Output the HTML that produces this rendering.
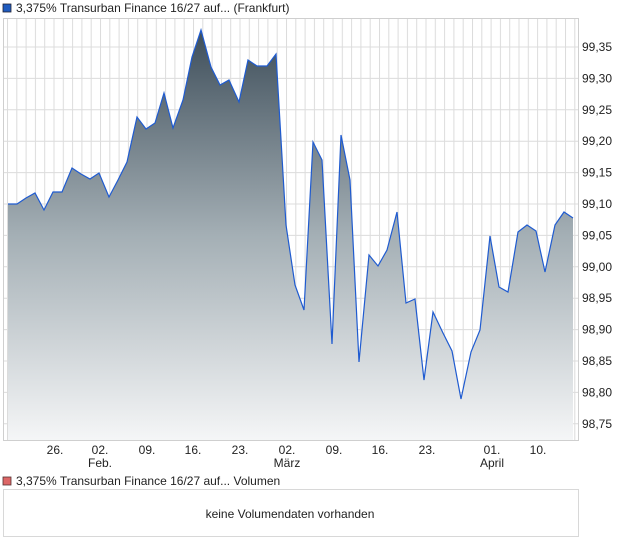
<!DOCTYPE html>
<html><head><meta charset="utf-8"><style>
body{margin:0;background:#fff;font-family:"Liberation Sans",sans-serif;}
svg{display:block}
text{font-family:"Liberation Sans",sans-serif;font-size:12px;fill:#222}
</style></head><body>
<svg width="620" height="546" viewBox="0 0 620 546">
<defs>
<linearGradient id="g" x1="0" y1="30" x2="0" y2="441" gradientUnits="userSpaceOnUse">
<stop offset="0" stop-color="#3e4e5a"/><stop offset="0.5" stop-color="#a4afb5"/><stop offset="1" stop-color="#f5f6f7"/>
</linearGradient>
<pattern id="vp" x="7" y="0" width="9.3" height="10" patternUnits="userSpaceOnUse">
<rect x="0" y="0" width="1" height="10" fill="#dcdcdc"/>
</pattern>
</defs>
<rect x="3" y="4" width="8" height="8" fill="#1f5bbf" stroke="#223" stroke-width="0.8"/>
<text x="16" y="12">3,375% Transurban Finance 16/27 auf... (Frankfurt)</text>
<rect x="4" y="19" width="574" height="421" fill="url(#vp)"/>
<g stroke="#dcdcdc" stroke-width="1">
<line x1="3" y1="47" x2="579" y2="47"/><line x1="3" y1="78.4" x2="579" y2="78.4"/><line x1="3" y1="109.8" x2="579" y2="109.8"/><line x1="3" y1="141.2" x2="579" y2="141.2"/><line x1="3" y1="172.6" x2="579" y2="172.6"/><line x1="3" y1="204" x2="579" y2="204"/><line x1="3" y1="235.4" x2="579" y2="235.4"/><line x1="3" y1="266.8" x2="579" y2="266.8"/><line x1="3" y1="298.2" x2="579" y2="298.2"/><line x1="3" y1="329.6" x2="579" y2="329.6"/><line x1="3" y1="361" x2="579" y2="361"/><line x1="3" y1="392.4" x2="579" y2="392.4"/><line x1="3" y1="423.8" x2="579" y2="423.8"/>
</g>
<polygon fill="url(#g)" points="8,441 8,204 17,204 26,198 35,193 44,210 53,192 62,192 72,168 81,174 90,179 99,173 109,197 118,180 127,162 137,117 146,129 155,123 164,93 173,128 183,100 192,57 201,30 211,67 220,85 229,80 239,102 248,60 257,66 267,66 276,54 286,225 295,285 304,310 313,142 322,160 332,344 341,135 350,180 359,362 369,255 378,266 387,250 397,212 406,303 415,299 424,380 433,312 443,333 452,351 461,399 471,352 480,330 490,236 499,287 508,292 518,232 527,225 536,231 545,272 555,225 564,212 573,218 573,441"/>
<polyline fill="none" stroke="#1f5bd0" stroke-width="1.2" points="8,204 17,204 26,198 35,193 44,210 53,192 62,192 72,168 81,174 90,179 99,173 109,197 118,180 127,162 137,117 146,129 155,123 164,93 173,128 183,100 192,57 201,30 211,67 220,85 229,80 239,102 248,60 257,66 267,66 276,54 286,225 295,285 304,310 313,142 322,160 332,344 341,135 350,180 359,362 369,255 378,266 387,250 397,212 406,303 415,299 424,380 433,312 443,333 452,351 461,399 471,352 480,330 490,236 499,287 508,292 518,232 527,225 536,231 545,272 555,225 564,212 573,218"/>
<rect x="3.5" y="18.5" width="575" height="422" fill="none" stroke="#cfcfcf"/>
<g>
<text x="582" y="51">99,35</text><text x="582" y="82.4">99,30</text><text x="582" y="113.8">99,25</text><text x="582" y="145.2">99,20</text><text x="582" y="176.6">99,15</text><text x="582" y="208">99,10</text><text x="582" y="239.4">99,05</text><text x="582" y="270.8">99,00</text><text x="582" y="302.2">98,95</text><text x="582" y="333.6">98,90</text><text x="582" y="365">98,85</text><text x="582" y="396.4">98,80</text><text x="582" y="427.8">98,75</text>
</g>
<g text-anchor="middle">
<text x="55" y="454">26.</text><text x="100" y="454">02.</text><text x="100" y="467">Feb.</text><text x="147" y="454">09.</text><text x="193" y="454">16.</text><text x="240" y="454">23.</text><text x="287" y="454">02.</text><text x="287" y="467">März</text><text x="334" y="454">09.</text><text x="380" y="454">16.</text><text x="427" y="454">23.</text><text x="492" y="454">01.</text><text x="492" y="467">April</text><text x="538" y="454">10.</text>
</g>
<rect x="3" y="477" width="8" height="8" fill="#d66" stroke="#533" stroke-width="0.8"/>
<text x="16" y="485">3,375% Transurban Finance 16/27 auf... Volumen</text>
<rect x="3.5" y="489.5" width="575" height="47" fill="#fff" stroke="#d8d8d8"/>
<text x="290" y="518" text-anchor="middle">keine Volumendaten vorhanden</text>
</svg>
</body></html>
